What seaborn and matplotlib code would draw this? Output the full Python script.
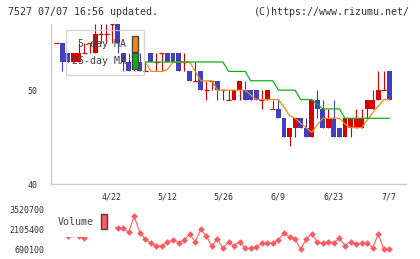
import numpy as np
import pandas as pd
import matplotlib
matplotlib.use("Agg")
import matplotlib.pyplot as plt
import seaborn as sns
from matplotlib.patches import Patch

sns.set_style("white")
plt.rcParams['font.family'] = ['DejaVu Sans Mono']

# 日足データ (7527)
opens = [55, 55, 54, 53, 53, 54, 55, 54, 56, 56,
         57, 57, 54, 53, 53, 53, 52, 54, 53, 54,
         54, 54, 54, 53, 52, 51, 52, 50, 51, 51,
         50, 49, 49, 50, 50, 50, 50, 49, 49, 48,
         48, 47, 45, 46, 47, 46, 45, 49, 48, 46,
         47, 46, 45, 46, 46, 46, 48, 48, 49, 50,
         52]
highs = [55, 55, 54, 54, 55, 55, 55, 57, 57, 57,
         57, 57, 54, 54, 54, 54, 53, 54, 54, 54,
         54, 54, 54, 54, 52, 53, 52, 51, 51, 51,
         50, 50, 50, 51, 51, 50, 50, 50, 50, 49,
         49, 47, 46, 47, 47, 47, 49, 50, 49, 48,
         49, 46, 47, 47, 48, 48, 49, 50, 52, 52,
         52]
lows = [55, 52, 53, 53, 53, 54, 54, 54, 55, 55,
        55, 54, 52, 52, 52, 52, 52, 53, 52, 52,
        53, 53, 52, 52, 51, 51, 50, 49, 50, 49,
        49, 49, 49, 49, 49, 49, 49, 48, 49, 48,
        47, 45, 44, 45, 46, 45, 45, 47, 46, 46,
        45, 45, 45, 45, 46, 46, 47, 48, 49, 50,
        49]
closes = [55, 53, 53, 54, 54, 54, 55, 56, 56, 56,
          57, 55, 53, 52, 54, 52, 52, 53, 53, 54,
          53, 53, 52, 53, 51, 51, 50, 50, 51, 50,
          50, 49, 50, 51, 49, 49, 49, 49, 50, 48,
          47, 45, 46, 47, 46, 45, 49, 48, 46, 47,
          45, 45, 47, 47, 47, 47, 49, 49, 50, 50,
          49]

nan = np.nan
ma5 = [nan, nan, nan, nan, nan, nan, nan, nan, nan, nan,
       nan, nan, nan, nan, nan, nan, 53, 52, 52, 52,
       52.2, 53, 53, 53, 53, 52, 51, 51, 51, 50,
       50, 50, 50, 50, 50, 49.5, 49, 49, 49, 49,
       49, 48.2, 47.3, 47, 46.5, 46, 45.5, 46.3, 47, 47,
       47, 47, 46.4, 46, 46, 46, 46.8, 47.6, 48.3, 49,
       49]
ma25 = [nan, nan, nan, nan, nan, nan, nan, nan, nan, nan,
        nan, nan, nan, nan, nan, nan, 53, 53, 53, 53,
        53, 53, 53, 53, 53, 53, 53, 53, 53, 53,
        53, 52, 52, 52, 52, 51, 51, 51, 51, 51,
        50, 50, 50, 50, 49, 49, 49, 48.5, 48, 48,
        48, 48, 47, 47, 47, 47, 47, 47, 47, 47,
        47]

volume = [2000000, 1900000, 1600000, 1800000, 1620000, 1490000, 2200000, 3000000, 2400000, 2000000,
          2300000, 2180000, 2180000, 1890000, 3050000, 1870000, 1400000, 1110000, 930000, 930000,
          1210000, 1350000, 1160000, 1350000, 1750000, 1230000, 2100000, 1630000, 930000, 1400000,
          760000, 1230000, 930000, 1230000, 760000, 760000, 880000, 1110000, 1110000, 1160000,
          1350000, 1870000, 1540000, 1400000, 690000, 1400000, 1780000, 1230000, 1110000, 1230000,
          1160000, 1470000, 950000, 1230000, 1070000, 1110000, 1110000, 810000, 1780000, 690000,
          690000]

date_labels = ['4/22', '5/12', '5/26', '6/9', '6/23', '7/7']
label_days = [10, 20, 30, 40, 50, 60]
vol_ticks = [690100, 2105400, 3520700]

df = pd.DataFrame({'open': opens, 'high': highs, 'low': lows, 'close': closes,
                   'ma5': ma5, 'ma25': ma25, 'volume': volume})
df['day'] = np.arange(len(df))

RED = '#d80000'
BLUE = '#4040c0'
ORANGE = '#f08c10'
GREEN = '#10b010'
VOLC = '#ff5a60'
GRID = '#cccccc'
TXT = '#333333'

fig = plt.figure(figsize=(4.2, 2.59), dpi=100)
ax = fig.add_axes([51 / 420, 1 - 184 / 259, 355 / 420, 160 / 259])
axv = fig.add_axes([51 / 420, 1 - 256 / 259, 355 / 420, 53 / 259])

# ローソク足
w = 0.88
for _, r in df.iterrows():
    col = BLUE if r['close'] < r['open'] else RED
    ax.vlines(r['day'], r['low'], r['high'], color=col, lw=0.8, zorder=3)
    if r['close'] != r['open']:
        ax.bar(r['day'], abs(r['close'] - r['open']), bottom=min(r['open'], r['close']),
               width=w, color=col, linewidth=0, zorder=3)
    else:
        ax.hlines(r['close'], r['day'] - w / 2, r['day'] + w / 2, color=col, lw=0.9, zorder=3)

# 移動平均
ax.plot(df['day'], df['ma5'], color=ORANGE, lw=0.9, zorder=4)
ax.plot(df['day'], df['ma25'], color=GREEN, lw=0.9, zorder=4)

ax.set_xlim(-1, 63)
ax.set_ylim(40, 57.05)
ax.set_yticks([40, 50])
ax.set_yticklabels(['40', '50'])
ax.set_xticks(label_days)
ax.set_xticklabels(date_labels)
ax.set_xticks(np.linspace(-1, 63, 12), minor=True)
ax.tick_params(axis='y', direction='out', length=6, width=1, color=GRID, pad=3.5,
               labelsize=6, labelcolor=TXT)
ax.tick_params(axis='x', which='major', length=0, pad=6, labelsize=6, labelcolor=TXT)
ax.tick_params(axis='x', which='minor', direction='inout', length=8, width=1, color=GRID)
for s in ['top', 'right']:
    ax.spines[s].set_visible(False)
for s in ['left', 'bottom']:
    ax.spines[s].set_color(GRID)
    ax.spines[s].set_linewidth(1)

leg = ax.legend([Patch(facecolor=ORANGE, edgecolor='#444444', lw=1),
                 Patch(facecolor=GREEN, edgecolor='#444444', lw=1)],
                ['5-day MA', '25-day MA'],
                loc='upper left', bbox_to_anchor=(0.041, 0.9625), borderaxespad=0,
                markerfirst=False, handlelength=0.6, handleheight=2.1, handletextpad=0.6,
                borderpad=0.6, labelspacing=0.1, fancybox=False, prop={'size': 7.2},
                facecolor='none', edgecolor=GRID)
leg.get_frame().set_linewidth(1.0)
for t in leg.get_texts():
    t.set_color('#444444')

# 出来高
sns.lineplot(data=df, x='day', y='volume', ax=axv, color=VOLC, marker='D',
             markersize=3.4, markeredgewidth=0, linewidth=0.8, estimator=None)
axv.set_xlim(-1, 63)
axv.set_ylim(216000, 3966500)
axv.set_yticks(vol_ticks)
axv.set_yticklabels([str(v) for v in vol_ticks])
axv.set_xticks([])
axv.set_xlabel('')
axv.set_ylabel('')
axv.tick_params(axis='y', length=0, pad=5, labelsize=6, labelcolor=TXT)
for s in axv.spines.values():
    s.set_visible(False)
axv.set_facecolor('none')

vleg = axv.legend([Patch(facecolor=VOLC, edgecolor='#444444', lw=1)], ['Volume'],
                  loc='upper left', bbox_to_anchor=(-0.003, 0.943), borderaxespad=0,
                  markerfirst=False, handlelength=0.6, handleheight=2.0, handletextpad=0.75,
                  borderpad=0.8, fancybox=False, prop={'size': 7.2},
                  facecolor='white', edgecolor='none', framealpha=1)
for t in vleg.get_texts():
    t.set_color('#444444')

fig.text(8 / 420, 1 - 12 / 259, '7527 07/07 16:56 updated.', fontsize=7.2, color=TXT,
         ha='left', va='center')
fig.text(410 / 420, 1 - 12 / 259, '(C)https://www.rizumu.net/', fontsize=7.2, color=TXT,
         ha='right', va='center')

fig.savefig('out.png', dpi=100)
